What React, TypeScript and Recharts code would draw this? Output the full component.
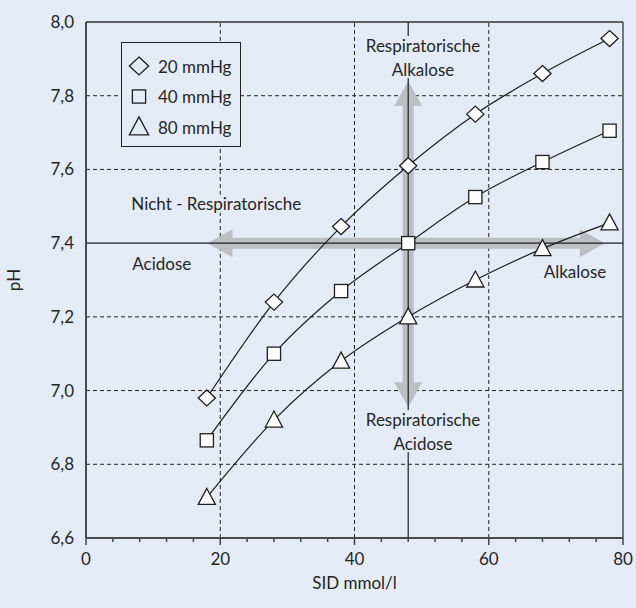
import React from 'react';
import { LineChart, Line, XAxis, YAxis, ReferenceLine, ReferenceDot } from 'recharts';

const sid = [18, 28, 38, 48, 58, 68, 78];
const ph20 = [6.98, 7.24, 7.445, 7.61, 7.75, 7.86, 7.955];
const ph40 = [6.865, 7.1, 7.27, 7.4, 7.525, 7.62, 7.705];
const ph80 = [6.71, 6.92, 7.08, 7.2, 7.3, 7.385, 7.455];
const seriesNames = ['20 mmHg', '40 mmHg', '80 mmHg'];
const seriesKeys = ['p20', 'p40', 'p80'];
const markerKinds = ['diamond', 'square', 'triangle'];

const xTicks = [0, 4, 8, 12, 16, 20, 24, 28, 32, 36, 40, 44, 48, 52, 56, 60, 64, 68, 72, 76, 80];
const yTicks = [6.6, 6.8, 7.0, 7.2, 7.4, 7.6, 7.8, 8.0];
const gridX = [20, 40, 60];
const gridY = [6.8, 7.0, 7.2, 7.6, 7.8];

// normal point (SID 48, pH 7.4) and the arrow ends
const normalSid = 48;
const normalPh = 7.4;
const hArrow = [18.1, 77.3];
const vArrow = [7.84, 6.955];

const notes = [
  { lines: ['Respiratorische', 'Alkalose'], x: 50.2, y: 7.905 },
  { lines: ['Respiratorische', 'Acidose'], x: 50.2, y: 6.89 },
  { lines: ['Nicht - Respiratorische'], x: 19.4, y: 7.507 },
  { lines: ['Acidose'], x: 11.3, y: 7.346 },
  { lines: ['Alkalose'], x: 72.85, y: 7.324 },
];

const data = sid.map((x, i) => ({ sid: x, p20: ph20[i], p40: ph40[i], p80: ph80[i] }));

const BG = '#e5ebf6';
const INK = '#262626';
const FONT = 'Lato, "Liberation Sans", sans-serif';
const FS = 17;

function Marker({ kind, cx, cy, fill = '#fff', big = false }: any) {
  const s = big ? 1.12 : 1;
  const common = { fill, stroke: '#1e1e1e', strokeWidth: 1.3 };
  if (kind === 'diamond') {
    const w = 8.6 * s, h = 8 * s;
    return <polygon {...common} points={`${cx},${cy - h} ${cx + w},${cy} ${cx},${cy + h} ${cx - w},${cy}`} />;
  }
  if (kind === 'square') {
    const a = 6.6;
    return <rect {...common} x={cx - a} y={cy - a} width={a * 2} height={a * 2} />;
  }
  const w = 8.6 * s;
  return <polygon {...common} points={`${cx},${cy - 9 * s} ${cx + w},${cy + 7 * s} ${cx - w},${cy + 7 * s}`} />;
}

function ArrowShape(props: any) {
  const { x1, y1, x2, y2 } = props;
  const dx = x2 - x1, dy = y2 - y1;
  const len = Math.hypot(dx, dy) || 1;
  const ux = dx / len, uy = dy / len;
  const px = -uy, py = ux;
  const hw = 14, hl = 25, sw = 5.5;
  const b1 = [x1 + ux * hl, y1 + uy * hl];
  const b2 = [x2 - ux * hl, y2 - uy * hl];
  const pts = [
    [x1, y1],
    [b1[0] + px * hw, b1[1] + py * hw],
    [b1[0] + px * sw, b1[1] + py * sw],
    [b2[0] + px * sw, b2[1] + py * sw],
    [b2[0] + px * hw, b2[1] + py * hw],
    [x2, y2],
    [b2[0] - px * hw, b2[1] - py * hw],
    [b2[0] - px * sw, b2[1] - py * sw],
    [b1[0] - px * sw, b1[1] - py * sw],
    [b1[0] - px * hw, b1[1] - py * hw],
  ];
  return <polygon points={pts.map((p) => p.join(',')).join(' ')} fill="#bcbec2" stroke="none" />;
}

function noteShape(lines: string[]) {
  return (p: any) => {
    const { cx, cy } = p;
    const lh = 24;
    const top = cy - (lines.length * lh) / 2;
    const w = Math.max(...lines.map((l) => l.length)) * 8.2;
    return (
      <g>
        <rect x={cx - w / 2} y={top + 3} width={w} height={lines.length * lh - 6} fill={BG} />
        {lines.map((l, i) => (
          <text
            key={i}
            x={cx}
            y={top + lh * i + lh / 2}
            textAnchor="middle"
            dominantBaseline="central"
            fontFamily={FONT}
            fontSize={FS}
            fill={INK}
          >
            {l}
          </text>
        ))}
      </g>
    );
  };
}

function XTick(props: any) {
  const { x, y, payload } = props;
  const v = payload.value;
  const major = v % 20 === 0;
  return (
    <g>
      <line x1={x} y1={y} x2={x} y2={y + (major ? 7 : 4)} stroke="#444" strokeWidth={1.5} />
      {major && (
        <text x={x} y={y + 27} textAnchor="middle" fontFamily={FONT} fontSize={FS} fill={INK}>
          {v}
        </text>
      )}
    </g>
  );
}

function LegendBox() {
  return (
    <div
      style={{
        position: 'absolute',
        left: 121,
        top: 42,
        width: 118,
        height: 103,
        border: '1.5px solid #222',
        background: BG,
      }}
    >
      <svg width={118} height={103} style={{ position: 'absolute', left: 0, top: 0 }}>
        {seriesNames.map((n, i) => (
          <g key={n}>
            <Marker kind={markerKinds[i]} cx={17} cy={23 + i * 30.5} fill={BG} big />
            <text x={36} y={23 + i * 30.5} dominantBaseline="central" fontFamily={FONT} fontSize={FS} fill={INK}>
              {n}
            </text>
          </g>
        ))}
      </svg>
    </div>
  );
}

export default function App() {
  return (
    <div style={{ position: 'absolute', left: 0, top: 0, width: 636, height: 608, background: BG }}>
      <LineChart width={636} height={608} data={data} margin={{ top: 22, right: 13, bottom: 10, left: 0 }}>
        <XAxis
          dataKey="sid"
          type="number"
          domain={[0, 80]}
          ticks={xTicks}
          interval={0}
          tick={<XTick />}
          tickLine={false}
          tickSize={0}
          tickMargin={0}
          height={60}
          axisLine={{ stroke: '#4a4a4a', strokeWidth: 2 }}
          label={{
            content: (p: any) => {
              const vb = p.viewBox;
              return (
                <text x={vb.x + vb.width / 2} y={vb.y + 51} textAnchor="middle" fontFamily={FONT} fontSize={FS} fill={INK}>
                  SID mmol/l
                </text>
              );
            },
          }}
        />
        <YAxis
          type="number"
          domain={[6.6, 8.0]}
          ticks={yTicks}
          interval={0}
          width={86}
          tickLine={false}
          tickSize={4}
          tickMargin={8}
          tickFormatter={(v: number) => v.toFixed(1).replace('.', ',')}
          tick={{ fontFamily: FONT, fontSize: FS, fill: INK }}
          axisLine={{ stroke: '#4a4a4a', strokeWidth: 2 }}
          label={{
            content: (p: any) => {
              const vb = p.viewBox;
              const cy = vb.y + vb.height / 2;
              return (
                <text
                  x={13}
                  y={cy}
                  transform={`rotate(-90 13 ${cy})`}
                  textAnchor="middle"
                  dominantBaseline="central"
                  fontFamily={FONT}
                  fontSize={FS}
                  fill={INK}
                >
                  pH
                </text>
              );
            },
          }}
        />
        {gridX.map((x) => (
          <ReferenceLine key={`gx${x}`} x={x} stroke="#222" strokeDasharray="4 3" />
        ))}
        {gridY.map((y) => (
          <ReferenceLine key={`gy${y}`} y={y} stroke="#222" strokeDasharray="4 3" />
        ))}
        <ReferenceLine y={8} stroke="#333" strokeWidth={1.3} />
        <ReferenceLine x={80} stroke="#333" strokeWidth={1.3} />
        <ReferenceLine
          segment={[{ x: hArrow[0], y: normalPh }, { x: hArrow[1], y: normalPh }]}
          shape={<ArrowShape />}
        />
        <ReferenceLine
          segment={[{ x: normalSid, y: vArrow[0] }, { x: normalSid, y: vArrow[1] }]}
          shape={<ArrowShape />}
        />
        <ReferenceLine y={normalPh} stroke="#1e1e1e" strokeWidth={1.2} />
        <ReferenceLine x={normalSid} stroke="#1e1e1e" strokeWidth={1.2} />
        {notes.map((n, i) => (
          <ReferenceDot key={`n${i}`} x={n.x} y={n.y} r={0} shape={noteShape(n.lines)} />
        ))}
        {seriesKeys.map((k, i) => (
          <Line
            key={k}
            dataKey={k}
            name={seriesNames[i]}
            type="monotone"
            stroke="#1e1e1e"
            strokeWidth={1.2}
            isAnimationActive={false}
            activeDot={false}
            dot={(p: any) => <Marker key={`${k}-${p.index}`} kind={markerKinds[i]} cx={p.cx} cy={p.cy} />}
          />
        ))}
      </LineChart>
      <LegendBox />
    </div>
  );
}
